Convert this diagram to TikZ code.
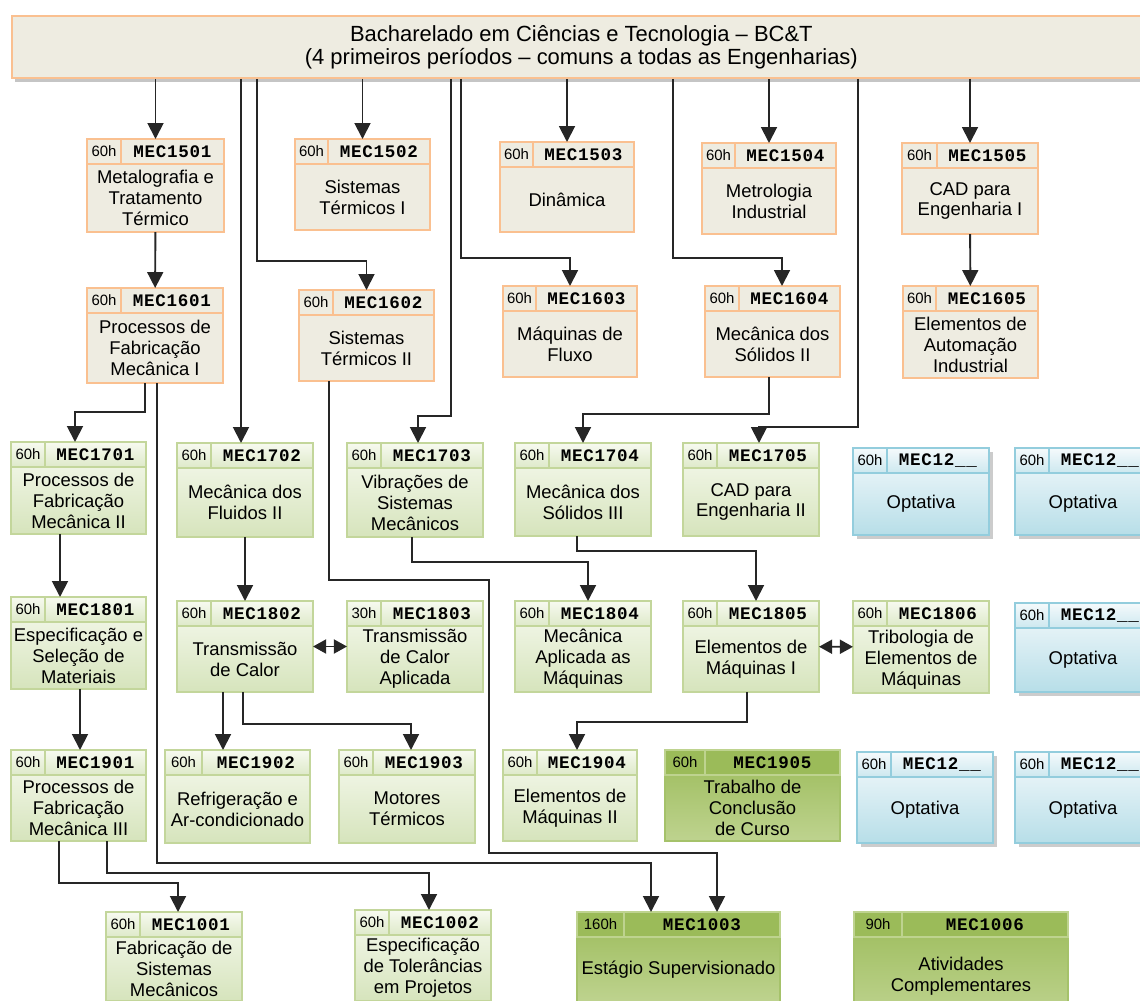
\documentclass[tikz,border=0pt]{standalone}
\usepackage{fontspec}
\setmainfont{Liberation Sans}
\newfontfamily\codfont[LetterSpace=4]{Liberation Mono}
\usepackage{tikz}
\usetikzlibrary{calc}
\usetikzlibrary{arrows.meta}
\usetikzlibrary{shadows}
\definecolor{bct-bege}{RGB}{238, 236, 225}
\definecolor{bct-laranja}{RGB}{250, 192, 144}
\definecolor{bct-verde1}{RGB}{247, 250, 240}
\definecolor{bct-verde2}{RGB}{214, 228, 188}
\definecolor{bct-verde3}{RGB}{195, 214, 155}
\definecolor{bct-oliva1}{RGB}{155, 187, 89}
\definecolor{bct-oliva2}{RGB}{190, 211, 143}
\definecolor{bct-azul1}{RGB}{245, 250, 252}
\definecolor{bct-azul2}{RGB}{183, 222, 232}
\definecolor{bct-azul3}{RGB}{147, 205, 221}

\tikzset{
  bege box/.style={draw=bct-laranja, fill=bct-bege, line width=0.8pt},
  bege cel/.style={draw=bct-laranja, fill=bct-bege, line width=0.8pt},
  verde box/.style={draw=bct-verde3, top color=bct-verde1, bottom color=bct-verde2, line width=0.8pt},
  verde cel/.style={draw=bct-verde3, top color=bct-verde1, bottom color=bct-verde2!80, line width=0.8pt},
  oliva box/.style={draw=bct-oliva1!90!white, top color=bct-oliva1, bottom color=bct-oliva2, line width=0.8pt},
  oliva cel/.style={draw=bct-oliva2, fill=bct-oliva1, line width=0.8pt},
  azul box/.style={draw=bct-azul3, top color=bct-azul1, bottom color=bct-azul2, line width=0.8pt,
    drop shadow={shadow xshift=2pt, shadow yshift=-2.5pt, fill=black!40}},
  azul cel/.style={draw=bct-azul3, top color=bct-azul1, bottom color=bct-azul2!70, line width=0.8pt},
  topo/.style={draw=bct-laranja, fill=bct-bege, line width=1pt, align=center,
    font=\fontsize{12.5}{13.2}\selectfont,
    drop shadow={shadow xshift=1.5pt, shadow yshift=-2.5pt, fill=black!45}},
  horas/.style={inner sep=0pt, font=\fontsize{8.5}{9}\selectfont},
  codigo/.style={inner sep=0pt, font=\codfont\bfseries\fontsize{10}{10}\selectfont},
  texto/.style={inner sep=0pt, align=center, font=\fontsize{10.5}{11.9}\selectfont},
  seta/.style={draw=black!85, line width=1.1pt, -{Triangle[width=9pt,length=9pt]}},
  seta2/.style={draw=black!85, line width=1.1pt, {Triangle[width=8pt,length=7.5pt]}-{Triangle[width=8pt,length=7.5pt]}}
}

% \curso{nome}{x,y}{largura}{altura}{celula horas}{horas}{codigo}{texto}{tipo}
\newcommand\curso[9]{%
  \node[#9 box, inner sep=0pt, outer sep=0pt, anchor=north west,
    minimum width=#3*0.02cm, minimum height=#4*0.02cm] (#1) at (#2) {};
  \path (#1.north west) ++(#5,25) coordinate (#1-c);
  \draw[#9 cel] (#1.north west) rectangle (#1-c);
  \draw[#9 cel] (#1-c |- #1.north) rectangle (#1.east |- #1-c);
  \node[horas] at ($(#1.north west)!0.5!(#1-c)$) {#6};
  \node[codigo] at ($(#1-c |- #1.north)!0.5!(#1.east |- #1-c)$) {#7};
  \node[texto] at ($(#1.south)!0.5!(#1.north |- #1-c)$) {#8};
}

\begin{document}
\begin{tikzpicture}[x=0.02cm, y=-0.02cm]
  \useasboundingbox (0,0) rectangle (1140,1001);
  \clip (0,0) rectangle (1140,1001);

  \node[topo, anchor=north west, minimum width=1139*0.02cm, minimum height=62*0.02cm] (bct) at (11,15)
    {Bacharelado em Ciências e Tecnologia – BC\&T\\(4 primeiros períodos – comuns a todas as Engenharias)};

  % 5o periodo
  \curso{m1501}{87,139}{137}{93}{34}{60h}{MEC1501}{Metalografia e\\Tratamento\\Térmico}{bege}
  \curso{m1502}{295,139}{135}{91}{33}{60h}{MEC1502}{Sistemas\\Térmicos I}{bege}
  \curso{m1503}{500,142}{134}{90}{33}{60h}{MEC1503}{Dinâmica}{bege}
  \curso{m1504}{702,143}{134}{91}{33}{60h}{MEC1504}{Metrologia\\Industrial}{bege}
  \curso{m1505}{902,143}{136}{91}{35}{60h}{MEC1505}{CAD para\\Engenharia I}{bege}
  % 6o periodo
  \curso{m1601}{87,288}{136}{95}{34}{60h}{MEC1601}{Processos de\\Fabricação\\Mecânica I}{bege}
  \curso{m1602}{299,290}{135}{91}{34}{60h}{MEC1602}{Sistemas\\Térmicos II}{bege}
  \curso{m1603}{503,286}{134}{91}{33}{60h}{MEC1603}{Máquinas de\\Fluxo}{bege}
  \curso{m1604}{705,286}{135}{91}{34}{60h}{MEC1604}{Mecânica dos\\Sólidos II}{bege}
  \curso{m1605}{903,286}{135}{92}{33}{60h}{MEC1605}{Elementos de\\Automação\\Industrial}{bege}
  % 7o periodo
  \curso{m1701}{11,442}{135}{92}{34}{60h}{MEC1701}{Processos de\\Fabricação\\Mecânica II}{verde}
  \curso{m1702}{177,443}{136}{94}{34}{60h}{MEC1702}{Mecânica dos\\Fluidos II}{verde}
  \curso{m1703}{347,443}{136}{94}{34}{60h}{MEC1703}{Vibrações de\\Sistemas\\Mecânicos}{verde}
  \curso{m1704}{515,443}{136}{93}{34}{60h}{MEC1704}{Mecânica dos\\Sólidos III}{verde}
  \curso{m1705}{683,443}{136}{93}{34}{60h}{MEC1705}{CAD para\\Engenharia II}{verde}
  \curso{opt1}{853,448}{136}{87}{34}{60h}{MEC12\_\_}{Optativa}{azul}
  \curso{opt2}{1015,448}{136}{87}{34}{60h}{MEC12\_\_}{Optativa}{azul}
  % 8o periodo
  \curso{m1801}{11,597}{135}{92}{34}{60h}{MEC1801}{Especificação e\\Seleção de\\Materiais}{verde}
  \curso{m1802}{177,601}{136}{91}{34}{60h}{MEC1802}{Transmissão\\de Calor}{verde}
  \curso{m1803}{347,601}{136}{91}{34}{30h}{MEC1803}{Transmissão\\de Calor\\Aplicada}{verde}
  \curso{m1804}{515,601}{136}{91}{34}{60h}{MEC1804}{Mecânica\\Aplicada as\\Máquinas}{verde}
  \curso{m1805}{683,601}{136}{91}{34}{60h}{MEC1805}{Elementos de\\Máquinas I}{verde}
  \curso{m1806}{853,601}{136}{92}{34}{60h}{MEC1806}{Tribologia de\\Elementos de\\Máquinas}{verde}
  \curso{opt3}{1015,603}{136}{89}{34}{60h}{MEC12\_\_}{Optativa}{azul}
  % 9o periodo
  \curso{m1901}{11,750}{135}{91}{34}{60h}{MEC1901}{Processos de\\Fabricação\\Mecânica III}{verde}
  \curso{m1902}{165,750}{145}{93}{37}{60h}{MEC1902}{Refrigeração e\\Ar-condicionado}{verde}
  \curso{m1903}{339,750}{136}{93}{34}{60h}{MEC1903}{Motores\\Térmicos}{verde}
  \curso{m1904}{503,750}{134}{91}{34}{60h}{MEC1904}{Elementos de\\Máquinas II}{verde}
  \curso{m1905}{665,750}{175}{91}{40}{60h}{MEC1905}{Trabalho de\\Conclusão\\de Curso}{oliva}
  \curso{opt4}{857,752}{136}{91}{34}{60h}{MEC12\_\_}{Optativa}{azul}
  \curso{opt5}{1015,752}{136}{91}{34}{60h}{MEC12\_\_}{Optativa}{azul}
  % 10o periodo
  \curso{m1001}{106,912}{136}{89}{34}{60h}{MEC1001}{Fabricação de\\Sistemas\\Mecânicos}{verde}
  \curso{m1002}{355,910}{136}{91}{34}{60h}{MEC1002}{Especificação\\de Tolerâncias\\em Projetos}{verde}
  \curso{m1003}{577,912}{203}{90}{47}{160h}{MEC1003}{Estágio Supervisionado}{oliva}
  \curso{m1006}{854,912}{214}{104}{48}{90h}{MEC1006}{Atividades\\Complementares}{oliva}

  % saidas do BC&T
  \draw[seta] (bct.south -| m1501) -- (m1501);
  \draw[seta] (bct.south -| 241,0) -- (m1702.north -| 241,0);
  \draw[seta] (bct.south -| 257,0) -- ++(0,182) -| (m1602);
  \draw[seta] (bct.south -| m1502) -- (m1502);
  \draw[seta] (bct.south -| 451,0) -- ++(0,337) -| (m1703.north -| 418,0);
  \draw[seta] (bct.south -| 461,0) -- ++(0,179) -| (m1603);
  \draw[seta] (bct.south -| m1503) -- (m1503);
  \draw[seta] (bct.south -| 673,0) -- ++(0,179) -| (m1604.north -| 782,0);
  \draw[seta] (bct.south -| m1504) -- (m1504);
  \draw[seta] (bct.south -| 858,0) -- ++(0,348) -| (m1705.north -| 759,0);
  \draw[seta] (bct.south -| m1505) -- (m1505);

  % pre-requisitos
  \draw[seta] (m1501) -- (m1601);
  \draw[seta] (m1505) -- (m1605);
  \draw[seta] (m1601.south -| 145,0) -- ++(0,29) -| (m1701.north -| 75,0);
  \draw[seta] (m1601.south -| 157,0) -- ++(0,480) -| (m1003.north -| 651,0);
  \draw[seta] (m1602.south -| 329,0) -- ++(0,199) -- ++(160,0) -- ++(0,273) -| (m1003.north -| 717,0);
  \draw[seta] (m1604.south -| 769,0) -- ++(0,37) -| (m1704);
  \draw[seta] (m1701.south -| 60,0) -- (m1801.north -| 60,0);
  \draw[seta] (m1702) -- (m1802);
  \draw[seta] (m1703.south -| 412,0) -- ++(0,25) -| (m1804.north -| 588,0);
  \draw[seta] (m1704.south -| 577,0) -- ++(0,15) -| (m1805.north -| 756,0);
  \draw[seta] (m1801.south -| 80,0) -- (m1901.north -| 80,0);
  \draw[seta] (m1802.south -| 223,0) -- (m1902.north -| 223,0);
  \draw[seta] (m1802.south -| 243,0) -- ++(0,32) -| (m1903.north -| 411,0);
  \draw[seta] (m1805.south -| 747,0) -- ++(0,30) -| (m1904.north -| 577,0);
  \draw[seta] (m1901.south -| 59,0) -- ++(0,42) -| (m1001.north -| 178,0);
  \draw[seta] (m1901.south -| 107,0) -- ++(0,32) -| (m1002.north -| 429,0);

  % co-requisitos
  \draw[seta2] (m1802) -- (m1803);
  \draw[seta2] (m1805) -- (m1806);
\end{tikzpicture}
\end{document}
